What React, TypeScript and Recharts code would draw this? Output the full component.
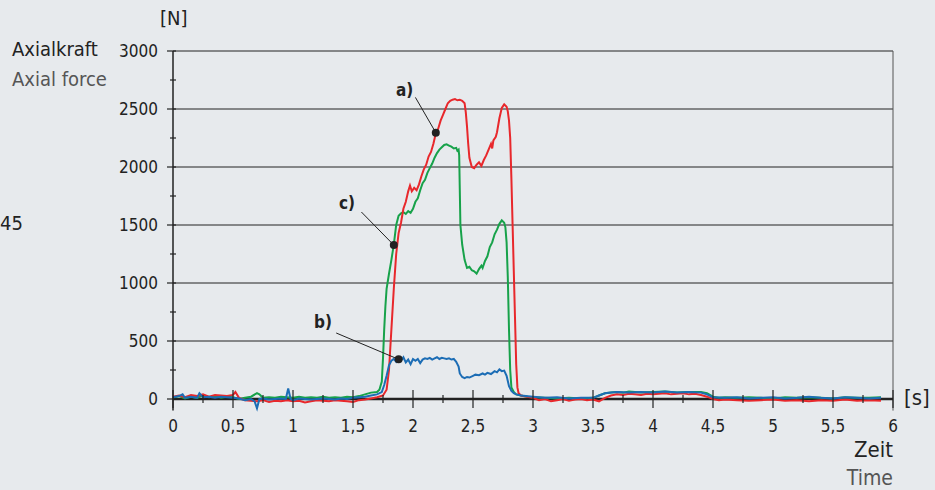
import React from "react";
import { LineChart, Line, XAxis, YAxis, ReferenceLine, ReferenceDot } from "recharts";

// measured axial force [N] over time [s]
const redT = [0, 0.05, 0.1, 0.15, 0.2, 0.25, 0.3, 0.35, 0.4, 0.45, 0.5, 0.52, 0.55, 0.6, 0.65, 0.7, 0.75, 0.8, 0.85, 0.9, 0.95, 1.0, 1.05, 1.1, 1.15, 1.2, 1.25, 1.3, 1.35, 1.4, 1.45, 1.5, 1.55, 1.6, 1.65, 1.7, 1.75, 1.78, 1.8, 1.82, 1.84, 1.86, 1.88, 1.9, 1.92, 1.94, 1.96, 1.975, 1.99, 2.01, 2.03, 2.05, 2.07, 2.09, 2.11, 2.13, 2.15, 2.17, 2.19, 2.21, 2.23, 2.25, 2.27, 2.29, 2.31, 2.33, 2.35, 2.37, 2.39, 2.41, 2.43, 2.44, 2.45, 2.46, 2.47, 2.49, 2.51, 2.53, 2.55, 2.57, 2.59, 2.61, 2.63, 2.65, 2.66, 2.67, 2.69, 2.7, 2.72, 2.74, 2.76, 2.78, 2.79, 2.8, 2.81, 2.82, 2.83, 2.84, 2.85, 2.86, 2.87, 2.88, 2.9, 2.95, 3.0, 3.05, 3.1, 3.15, 3.2, 3.25, 3.3, 3.35, 3.4, 3.45, 3.5, 3.55, 3.6, 3.65, 3.7, 3.75, 3.8, 3.85, 3.9, 3.95, 4.0, 4.05, 4.1, 4.15, 4.2, 4.25, 4.3, 4.35, 4.4, 4.45, 4.5, 4.55, 4.6, 4.7, 4.8, 4.9, 5.0, 5.1, 5.2, 5.3, 5.4, 5.5, 5.6, 5.7, 5.8, 5.9, 6.0];
const redF = [20, 30, 15, 35, 25, 40, 20, 35, 30, 25, 35, 60, 10, -10, -15, -20, -10, -25, -15, -20, -10, -20, -15, -30, -20, -10, -15, -20, -10, -15, -20, -25, -10, -5, 5, 15, 30, 80, 250, 600, 950, 1250, 1430, 1520, 1640, 1700, 1790, 1840, 1790, 1820, 1800, 1850, 1920, 1980, 2020, 2090, 2130, 2200, 2290, 2330, 2400, 2450, 2500, 2550, 2570, 2580, 2585, 2575, 2580, 2570, 2550, 2470, 2350, 2200, 2080, 2000, 1990, 2020, 2040, 2010, 2060, 2100, 2150, 2200, 2160, 2230, 2260, 2300, 2420, 2510, 2540, 2520, 2480, 2400, 2250, 1900, 1500, 1100, 700, 300, 100, 50, 30, 20, 10, -10, 0, -20, -10, 0, -15, -5, 0, -10, -5, -20, 10, 30, 40, 35, 45, 40, 35, 45, 40, 45, 50, 40, 45, 50, 40, 45, 35, 20, 0, -10, -5, -10, -15, -10, -5, -15, -10, -20, -10, -15, -5, -15, -10, -15];

const greenT = [0, 0.05, 0.1, 0.15, 0.2, 0.25, 0.3, 0.35, 0.4, 0.45, 0.5, 0.55, 0.6, 0.65, 0.7, 0.72, 0.75, 0.8, 0.85, 0.9, 0.95, 1.0, 1.05, 1.1, 1.15, 1.2, 1.25, 1.3, 1.35, 1.4, 1.45, 1.5, 1.55, 1.6, 1.65, 1.7, 1.72, 1.74, 1.75, 1.76, 1.77, 1.78, 1.8, 1.82, 1.84, 1.86, 1.88, 1.9, 1.92, 1.94, 1.96, 1.98, 2.0, 2.02, 2.04, 2.06, 2.08, 2.1, 2.12, 2.14, 2.16, 2.18, 2.2, 2.22, 2.24, 2.26, 2.28, 2.3, 2.32, 2.34, 2.36, 2.37, 2.38, 2.385, 2.39, 2.395, 2.41, 2.43, 2.45, 2.47, 2.49, 2.51, 2.53, 2.55, 2.57, 2.58, 2.6, 2.62, 2.64, 2.66, 2.68, 2.7, 2.72, 2.74, 2.76, 2.77, 2.78, 2.79, 2.8, 2.81, 2.82, 2.84, 2.86, 2.9, 2.95, 3.0, 3.1, 3.2, 3.3, 3.4, 3.5, 3.55, 3.6, 3.65, 3.7, 3.75, 3.8, 3.9, 4.0, 4.1, 4.2, 4.3, 4.4, 4.45, 4.5, 4.55, 4.6, 4.7, 4.8, 4.9, 5.0, 5.1, 5.2, 5.3, 5.4, 5.5, 5.6, 5.7, 5.8, 5.9, 6.0];
const greenF = [10, 25, 5, 20, 10, 30, 15, 25, 10, 20, 15, 0, 10, 20, 50, 40, 10, 15, 10, 20, 15, 10, 20, 10, 15, 10, 20, 10, 15, 10, 20, 15, 25, 40, 55, 60, 80, 150, 350, 600, 800, 950, 1080, 1200, 1330, 1500, 1580, 1600, 1610, 1595, 1620, 1605, 1640, 1700, 1730, 1800, 1860, 1890, 1950, 1990, 2030, 2080, 2120, 2150, 2170, 2190, 2195, 2185, 2175, 2160, 2165, 2140, 2150, 2100, 1800, 1500, 1330, 1200, 1130, 1140, 1110, 1100, 1080, 1120, 1150, 1130, 1190, 1230, 1310, 1350, 1420, 1460, 1510, 1540, 1520, 1480, 1350, 1050, 600, 250, 100, 60, 40, 30, 20, 15, 10, 5, 10, 5, 10, 30, 50, 55, 60, 55, 65, 55, 60, 65, 55, 60, 60, 50, 20, 10, 15, 10, 15, 10, 5, 15, 10, 15, 10, 5, 15, 10, 10, 15];

const blueT = [0, 0.05, 0.08, 0.1, 0.15, 0.2, 0.22, 0.25, 0.3, 0.35, 0.4, 0.45, 0.5, 0.55, 0.6, 0.65, 0.68, 0.7, 0.72, 0.75, 0.8, 0.85, 0.9, 0.94, 0.96, 0.98, 1.0, 1.05, 1.1, 1.15, 1.2, 1.25, 1.3, 1.35, 1.4, 1.45, 1.5, 1.55, 1.6, 1.65, 1.7, 1.74, 1.76, 1.78, 1.8, 1.82, 1.84, 1.86, 1.88, 1.9, 1.92, 1.94, 1.96, 1.98, 2.0, 2.02, 2.04, 2.06, 2.08, 2.1, 2.12, 2.14, 2.16, 2.18, 2.2, 2.22, 2.24, 2.26, 2.28, 2.3, 2.32, 2.34, 2.36, 2.38, 2.39, 2.41, 2.43, 2.45, 2.47, 2.5, 2.52, 2.55, 2.58, 2.6, 2.62, 2.65, 2.68, 2.7, 2.72, 2.74, 2.76, 2.78, 2.8, 2.82, 2.84, 2.86, 2.9, 3.0, 3.1, 3.2, 3.3, 3.4, 3.5, 3.55, 3.6, 3.65, 3.7, 3.8, 3.9, 4.0, 4.1, 4.2, 4.3, 4.4, 4.45, 4.5, 4.6, 4.7, 4.8, 4.9, 5.0, 5.1, 5.2, 5.3, 5.4, 5.5, 5.6, 5.7, 5.8, 5.9, 6.0];
const blueF = [15, 25, 40, 10, 20, 10, 50, 15, 20, 10, 20, 15, 10, 5, -10, 0, -20, -80, 0, 5, -5, 0, 5, 0, 90, 0, -10, 5, 0, -5, 0, 5, 0, -5, 5, 0, 10, 15, 20, 30, 40, 60, 120, 200, 290, 330, 345, 320, 350, 330, 360, 315, 340, 300, 345, 330, 345, 310, 340, 350, 345, 355, 340, 350, 360, 345, 355, 350, 345, 350, 340, 345, 320, 280, 220, 190, 180, 190, 185, 200, 210, 205, 220, 210, 225, 215, 240, 230, 255, 240, 245, 200, 110, 70, 50, 40, 30, 20, 10, 15, 5, 10, 10, 30, 50, 55, 60, 55, 60, 55, 65, 55, 60, 55, 40, 15, 10, 15, 5, 10, 15, 5, 10, 20, 10, 5, 15, 10, 5, 10];

const xTicks = [0, 0.25, 0.5, 0.75, 1, 1.25, 1.5, 1.75, 2, 2.25, 2.5, 2.75, 3, 3.25, 3.5, 3.75, 4, 4.25, 4.5, 4.75, 5, 5.25, 5.5, 5.75, 6];
const yTicks = [0, 250, 500, 750, 1000, 1250, 1500, 1750, 2000, 2250, 2500, 2750, 3000];
const gridValues = [500, 1000, 1500, 2000, 2500, 3000];
// a little room below zero so the noise under the baseline is not clipped
const Y_MIN = -100;

// annotation: [label, label t, label F, line start t, line start F, dot t, dot F]
const notes: [string, number, number, number, number, number, number][] = [
  ["a)", 1.93, 2665, 2.02, 2600, 2.19, 2296],
  ["c)", 1.45, 1690, 1.57, 1612, 1.84, 1327],
  ["b)", 1.25, 664, 1.36, 569, 1.88, 342],
];

const zip = (t: number[], f: number[]) => t.map((x, i) => ({ t: x, f: f[i] }));
const redData = zip(redT, redF);
const greenData = zip(greenT, greenF);
const blueData = zip(blueT, blueF);

const FONT = "'DejaVu Sans Condensed', 'Liberation Sans Narrow', sans-serif";
const BG = "#e7eaed";
const INK = "#222";
const PLOT_TOP = 51;
const PLOT_BOTTOM = 399 + 11.6; // y of Y_MIN
const BASE_SHIFT = PLOT_BOTTOM - 399; // x axis tick row sits at F = 0

const YTick = (props: any) => {
  const { x, y, payload } = props;
  const major = payload.value % 500 === 0;
  return (
    <g>
      <line x1={major ? x - 6 : x - 3} x2={x + 3} y1={y} y2={y} stroke={INK} strokeWidth={1.2} />
      {major && (
        <text x={x - 15} y={y} dy={6} textAnchor="end" fontSize={17} fill={INK} fontFamily={FONT}>
          {payload.value}
        </text>
      )}
    </g>
  );
};

const XTick = (props: any) => {
  const { x, payload } = props;
  const y = props.y - BASE_SHIFT;
  const major = Math.abs((payload.value * 2) % 1) < 1e-6;
  return (
    <g>
      <line x1={x} x2={x} y1={major ? y - 9 : y - 4} y2={major ? y + 9 : y + 4} stroke={INK} strokeWidth={1.2} />
      {major && (
        <text x={x} y={y} dy={33} textAnchor="middle" fontSize={17} fill={INK} fontFamily={FONT}>
          {String(payload.value).replace(".", ",")}
        </text>
      )}
    </g>
  );
};

const NoteLabel = (text: string) => (props: any) => {
  const { viewBox } = props;
  return (
    <text x={viewBox.x} y={viewBox.y} dy={6} textAnchor="middle" fontSize={17} fontWeight="bold" fill={INK} fontFamily={FONT}>
      {text}
    </text>
  );
};

export default function App() {
  return (
    <div style={{ position: "absolute", left: 0, top: 0, width: 935, height: 490, background: BG, fontFamily: FONT }}>
      <LineChart
        width={935}
        height={490}
        margin={{ top: PLOT_TOP, right: 42, bottom: 490 - PLOT_BOTTOM - 30, left: 113 }}
      >
        <XAxis
          dataKey="t"
          type="number"
          domain={[0, 6]}
          ticks={xTicks}
          interval={0}
          height={30}
          tickSize={0}
          tickMargin={0}
          tick={<XTick />}
          axisLine={false}
        />
        <YAxis
          type="number"
          domain={[Y_MIN, 3000]}
          ticks={yTicks}
          interval={0}
          width={60}
          tickSize={0}
          tickMargin={0}
          tick={<YTick />}
          axisLine={{ stroke: INK, strokeWidth: 1.5 }}
        />
        {gridValues.map((v) => (
          <ReferenceLine key={v} y={v} stroke={INK} strokeWidth={1} />
        ))}
        <ReferenceLine x={6} segment={[{ x: 6, y: 0 }, { x: 6, y: 3000 }]} stroke="#555" strokeWidth={1} />
        <ReferenceLine y={0} stroke={INK} strokeWidth={2.5} />
        <Line data={greenData} dataKey="f" stroke="#17a24a" strokeWidth={2} dot={false} isAnimationActive={false} />
        <Line data={redData} dataKey="f" stroke="#e8282c" strokeWidth={2} dot={false} isAnimationActive={false} />
        <Line data={blueData} dataKey="f" stroke="#1c6db5" strokeWidth={2} dot={false} isAnimationActive={false} />
        {notes.map(([label, lt, lf, st, sf, dt, df]) => (
          <ReferenceLine
            key={"l" + label}
            segment={[{ x: st, y: sf }, { x: dt, y: df }]}
            stroke={INK}
            strokeWidth={1}
          />
        ))}
        {notes.map(([label, lt, lf, st, sf, dt, df]) => (
          <ReferenceDot key={"d" + label} x={dt} y={df} r={4} fill={INK} stroke="none" />
        ))}
        {notes.map(([label, lt, lf]) => (
          <ReferenceDot key={"t" + label} x={lt} y={lf} r={0} fill="none" stroke="none" label={NoteLabel(label)} />
        ))}
      </LineChart>
      <div style={{ position: "absolute", left: 160, top: 6, fontSize: 20, color: INK }}>[N]</div>
      <div style={{ position: "absolute", left: 12, top: 37, fontSize: 20, color: INK }}>Axialkraft</div>
      <div style={{ position: "absolute", left: 12, top: 67, fontSize: 20, color: "#555" }}>Axial force</div>
      <div style={{ position: "absolute", left: 0, top: 211, fontSize: 20, color: INK }}>45</div>
      <div style={{ position: "absolute", left: 904, top: 385, fontSize: 22, color: INK }}>[s]</div>
      <div style={{ position: "absolute", right: 42, top: 437, fontSize: 22, color: INK }}>Zeit</div>
      <div style={{ position: "absolute", right: 42, top: 466, fontSize: 21, color: "#555" }}>Time</div>
    </div>
  );
}
